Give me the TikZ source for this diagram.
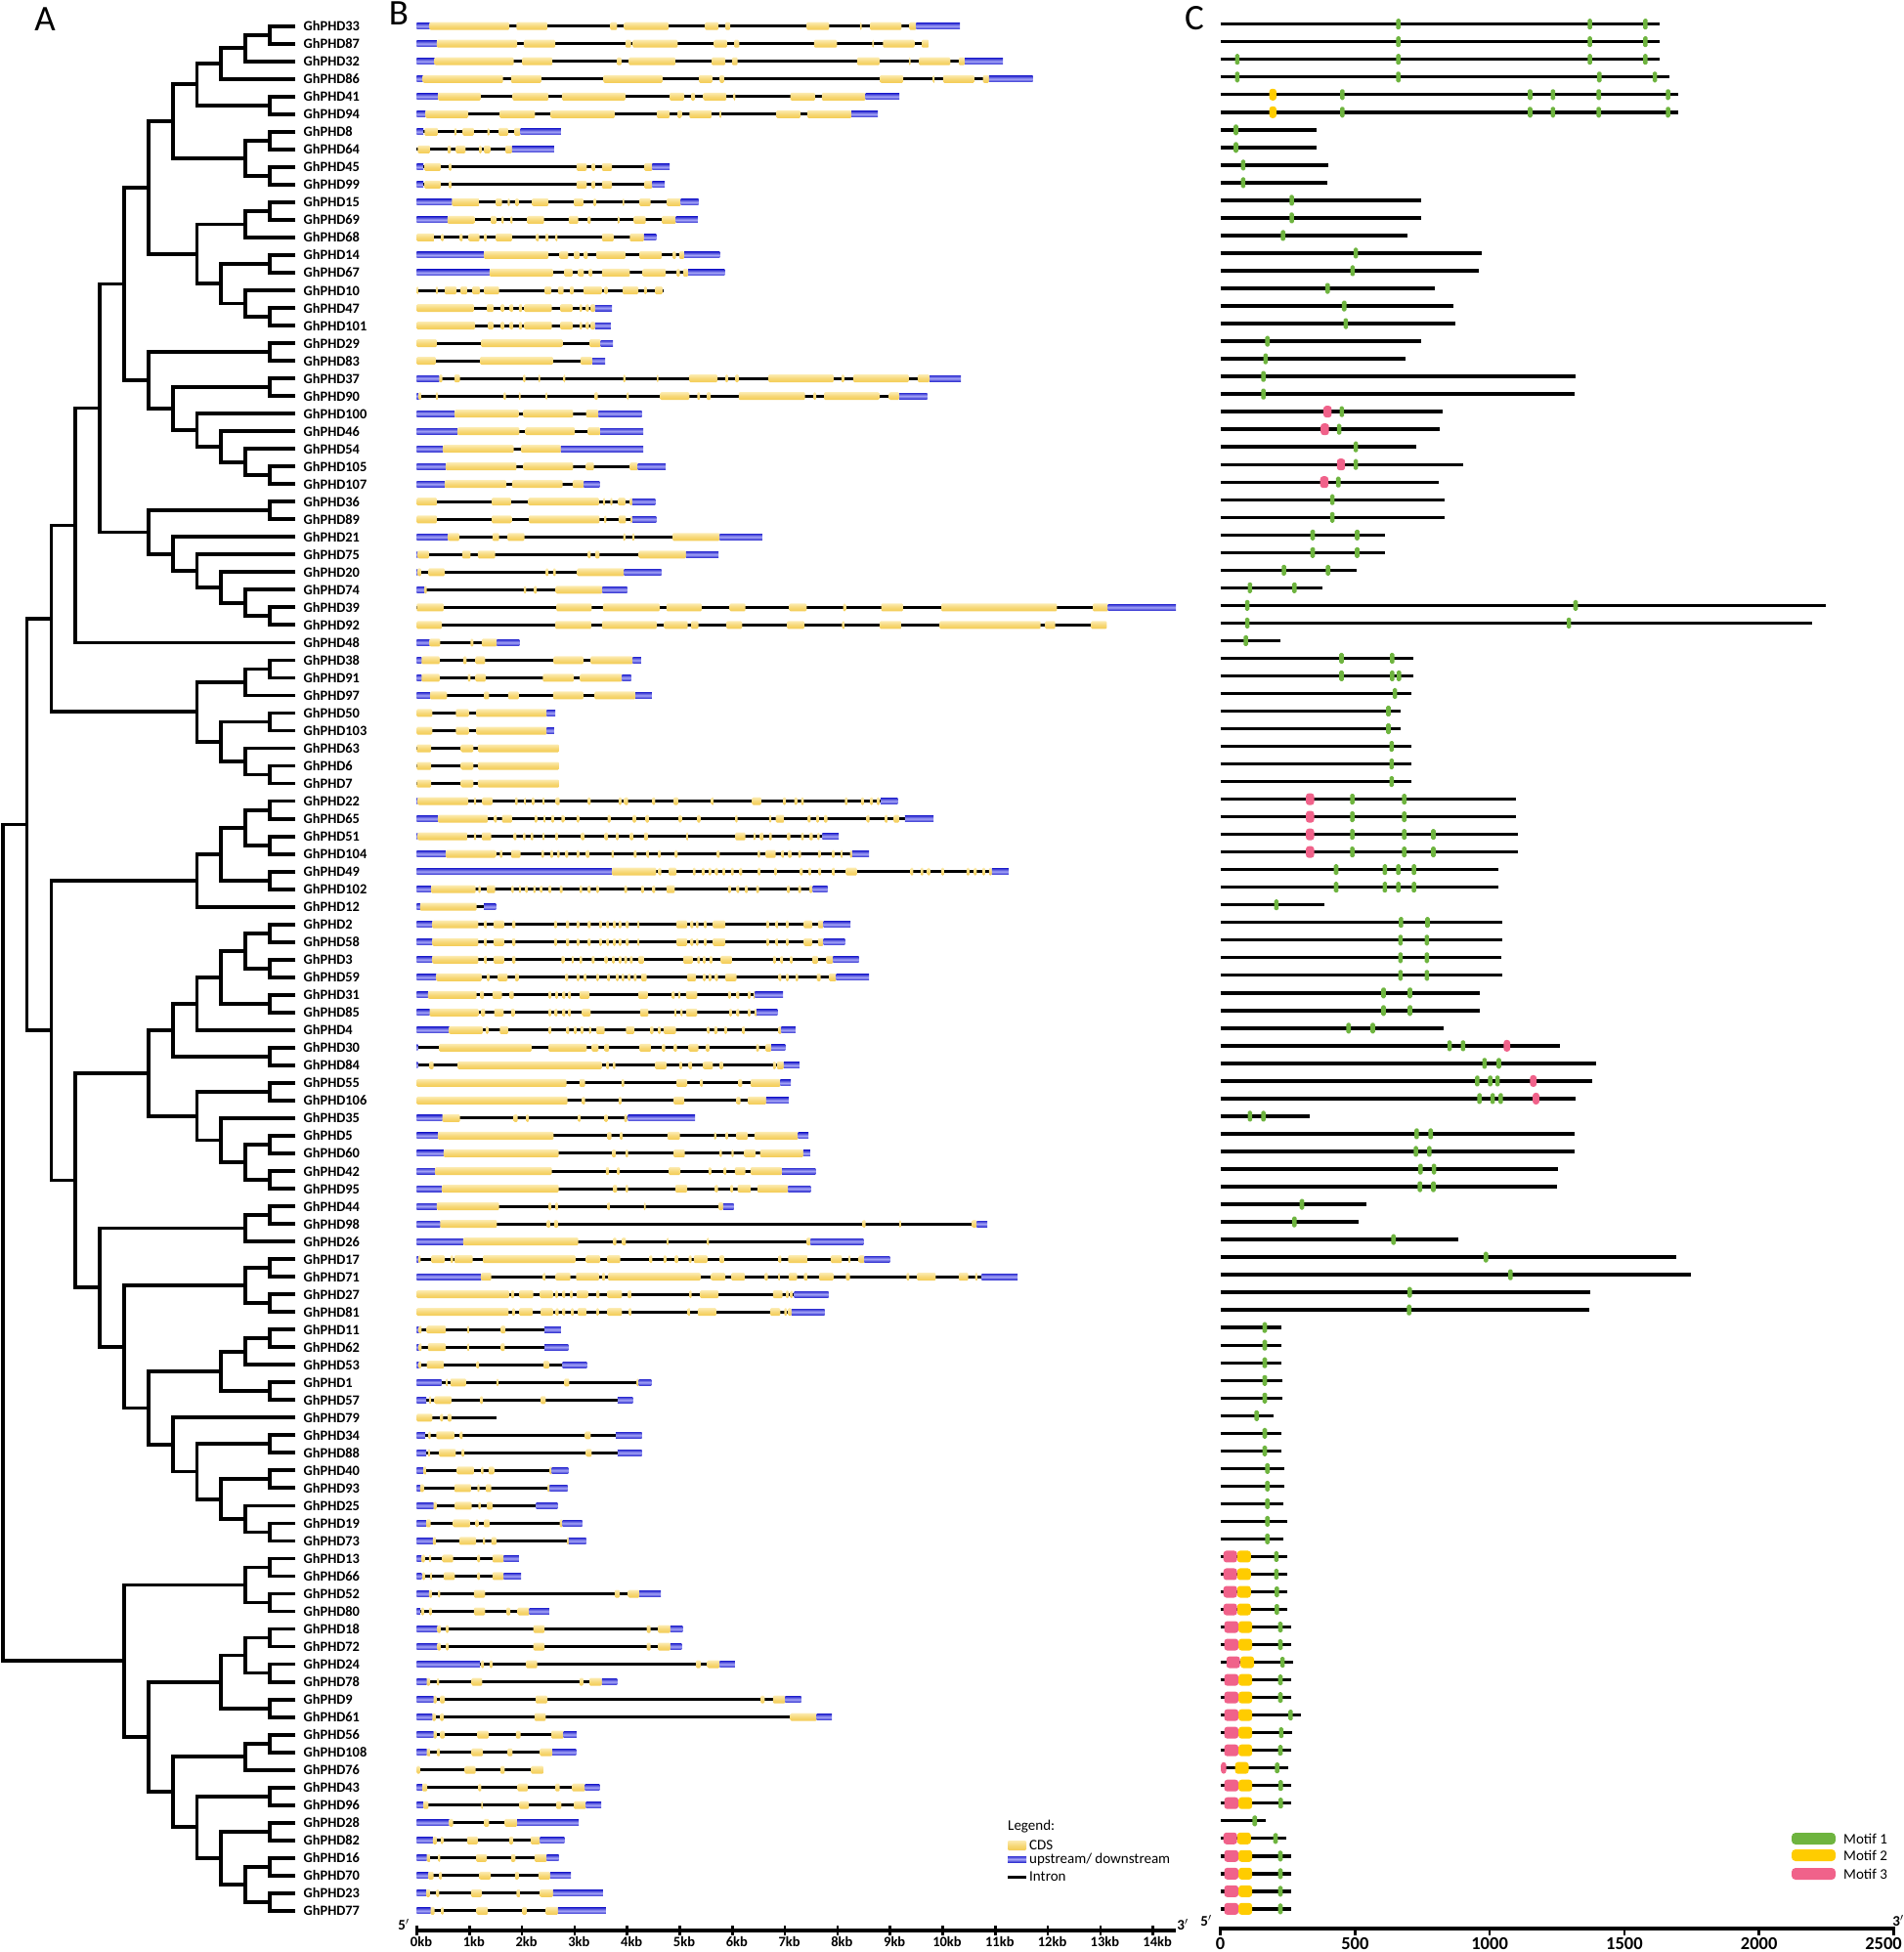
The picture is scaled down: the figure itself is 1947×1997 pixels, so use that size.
\documentclass[tikz,border=0pt]{standalone}
\usepackage{fontspec}
\setmainfont{Carlito}
\usetikzlibrary{calc}

\definecolor{cdsyellow}{HTML}{F3CB52}
\definecolor{cdslight}{HTML}{FCEBB0}
\definecolor{utrblue}{HTML}{3434D2}
\definecolor{utrlight}{HTML}{A4A4F6}
\definecolor{motifgreen}{HTML}{6EB43F}
\definecolor{motifyellow}{HTML}{FFCC00}
\definecolor{motifpink}{HTML}{F0628A}

\tikzset{declare function={bx(\u)=300+0.5741*\u; ry(\w)=26.7+18.02*(\w-1); cx(\v)=1248.5+0.2756*\v;}}

% half heights of the bars
\newcommand\seghu{3}
\newcommand\seghc{4}
\newcommand\mothg{5.5}
\newcommand\mothy{6}
\newcommand\mothp{6}

% clade: name, child 1, child 2, height above the tips
\newcommand\clade[4]{%
  \path let \p1=(#2), \p2=(#3) in coordinate (#1) at ({(300.9-24.85*#4)*1pt},{0.5*\y1+0.5*\y2});
  \draw[branch] (#2) -| (#1) |- (#3);
}
% gene: row, end, segments (u = up/downstream, c = CDS)
\newcommand\gene[3]{%
  \draw[intron] ({bx(220)},{ry(#1)}) -- ({bx(#2)},{ry(#1)});
  \foreach \kind/\sa/\sb in {#3}{%
    \path[seg\kind] ({bx(\sa)},{ry(#1)-\csname segh\kind\endcsname}) rectangle ({bx(\sb)},{ry(#1)+\csname segh\kind\endcsname});
  }
}
% protein: row, length, motifs
\newcommand\prot[3]{%
  \draw[pline] ({cx(0)},{ry(#1)-2}) -- ({cx(#2)},{ry(#1)-2});
  \foreach \kind/\sa/\sb in {#3}{%
    \path[motif\kind] ({cx(\sa)-2.3},{ry(#1)-2-\csname moth\kind\endcsname}) rectangle ({cx(\sb)+2.3},{ry(#1)-2+\csname moth\kind\endcsname});
  }
}

\begin{document}
\begin{tikzpicture}[x=1pt, y=-1pt,
    branch/.style={line width=3.8pt},
    genelab/.style={anchor=west, inner sep=0pt, font=\bfseries\fontsize{14.4}{16}\selectfont},
    panel/.style={inner sep=0pt, font=\fontsize{37}{40}\selectfont},
    intron/.style={line width=3pt},
    segu/.style={top color=utrblue, bottom color=utrblue, middle color=utrlight},
    segc/.style={rounded corners=1.2pt, top color=cdslight, bottom color=cdsyellow, middle color=cdsyellow!60!cdslight},
    pline/.style={line width=3.4pt},
    motifg/.style={fill=motifgreen, rounded corners=1.5pt},
    motify/.style={fill=motifyellow, rounded corners=3pt},
    motifp/.style={fill=motifpink, rounded corners=3pt},
    axisline/.style={line width=4pt},
    tick/.style={line width=2.6pt},
    kblab/.style={anchor=north, inner sep=0pt, font=\bfseries\fontsize{14.5}{16}\selectfont},
    aalab/.style={anchor=north, inner sep=0pt, font=\bfseries\fontsize{18.5}{20}\selectfont},
    endlab/.style={inner sep=0pt, font=\bfseries\fontsize{15}{16}\selectfont},
    legtext/.style={anchor=west, inner sep=0pt, font=\fontsize{15}{17}\selectfont},
]
\useasboundingbox (0,0) rectangle (1947,1997);

\node[panel] (panA) at (46,20) {A};
\node[panel] (panB) at (408,14) {B};
\node[panel] (panC) at (1222,19) {C};

% A: tree tips and names
\foreach \n [count=\i] in {33,87,32,86,41,94,8,64,45,99,15,69,68,14,67,10,47,101,29,83,37,90,100,46,54,105,107,36,89,21,75,20,74,39,92,48,38,91,97,50,103,63,6,7,22,65,51,104,49,102,12,2,58,3,59,31,85,4,30,84,55,106,35,5,60,42,95,44,98,26,17,71,27,81,11,62,53,1,57,79,34,88,40,93,25,19,73,13,66,52,80,18,72,24,78,9,61,56,108,76,43,96,28,82,16,70,23,77}{
  \coordinate (g\n) at (302,{ry(\i)});
  \node[genelab] (lab\n) at (310.5,{ry(\i)}) {GhPHD\n};
}

\clade{a1}{g33}{g87}{1}
\clade{a2}{a1}{g32}{2}
\clade{a3}{a2}{g86}{3}
\clade{a4p}{g41}{g94}{1}
\clade{a4}{a3}{a4p}{4}
\clade{b1}{g8}{g64}{1}
\clade{b2}{g45}{g99}{1}
\clade{b3}{b1}{b2}{2}
\clade{a5}{a4}{b3}{5}
\clade{c1}{g15}{g69}{1}
\clade{c2}{c1}{g68}{2}
\clade{c3}{g14}{g67}{1}
\clade{c4}{g47}{g101}{1}
\clade{c5}{g10}{c4}{2}
\clade{c6}{c3}{c5}{3}
\clade{c7}{c2}{c6}{4}
\clade{a6}{a5}{c7}{6}
\clade{d1}{g29}{g83}{1}
\clade{d2}{g37}{g90}{1}
\clade{d3}{g105}{g107}{1}
\clade{d4}{g54}{d3}{2}
\clade{d5}{g46}{d4}{3}
\clade{d6}{g100}{d5}{4}
\clade{d7}{d2}{d6}{5}
\clade{d8}{d1}{d7}{6}
\clade{a7}{a6}{d8}{7}
\clade{e1}{g39}{g92}{1}
\clade{e2}{g74}{e1}{2}
\clade{e3}{g20}{e2}{3}
\clade{e4}{g75}{e3}{4}
\clade{e5}{g21}{e4}{5}
\clade{e6}{g36}{g89}{1}
\clade{e7}{e6}{e5}{6}
\clade{a8}{a7}{e7}{8}
\clade{a9}{a8}{g48}{9}
\clade{f1}{g38}{g91}{1}
\clade{f2}{f1}{g97}{2}
\clade{f3}{g50}{g103}{1}
\clade{f4}{g6}{g7}{1}
\clade{f5}{g63}{f4}{2}
\clade{f6}{f3}{f5}{3}
\clade{f7}{f2}{f6}{4}
\clade{a10}{a9}{f7}{10}
\clade{h1}{g22}{g65}{1}
\clade{h2}{g51}{g104}{1}
\clade{h3}{h1}{h2}{2}
\clade{h4}{g49}{g102}{1}
\clade{h5}{h3}{h4}{3}
\clade{h6}{h5}{g12}{4}
\clade{i1}{g2}{g58}{1}
\clade{i2}{g3}{g59}{1}
\clade{i3}{i1}{i2}{2}
\clade{i4}{g31}{g85}{1}
\clade{i5}{i3}{i4}{3}
\clade{i6}{i5}{g4}{4}
\clade{i7}{g30}{g84}{1}
\clade{i8}{i6}{i7}{5}
\clade{j1}{g55}{g106}{1}
\clade{j2}{g5}{g60}{1}
\clade{j3}{g42}{g95}{1}
\clade{j4}{j2}{j3}{2}
\clade{j5}{g35}{j4}{3}
\clade{j6}{j1}{j5}{4}
\clade{i9}{i8}{j6}{6}
\clade{k1}{g44}{g98}{1}
\clade{k2}{k1}{g26}{2}
\clade{k3}{g17}{g71}{1}
\clade{k4}{g27}{g81}{1}
\clade{k5}{k3}{k4}{2}
\clade{m1}{g11}{g62}{1}
\clade{m2}{m1}{g53}{2}
\clade{m3}{g1}{g57}{1}
\clade{m4}{m2}{m3}{3}
\clade{n1}{g19}{g73}{1}
\clade{n2}{g25}{n1}{2}
\clade{n3}{g40}{g93}{1}
\clade{n4}{n3}{n2}{3}
\clade{n5}{g34}{g88}{1}
\clade{n6}{n5}{n4}{4}
\clade{n7}{g79}{n6}{5}
\clade{m5}{m4}{n7}{6}
\clade{k6}{k5}{m5}{7}
\clade{k7}{k2}{k6}{8}
\clade{i10}{i9}{k7}{9}
\clade{h7}{h6}{i10}{10}
\clade{a11}{a10}{h7}{11}
\clade{p1}{g13}{g66}{1}
\clade{p2}{g52}{g80}{1}
\clade{p3}{p1}{p2}{2}
\clade{q1}{g18}{g72}{1}
\clade{q2}{g24}{g78}{1}
\clade{q3}{q1}{q2}{2}
\clade{q4}{g9}{g61}{1}
\clade{q5}{q3}{q4}{3}
\clade{r1}{g56}{g108}{1}
\clade{r2}{r1}{g76}{2}
\clade{s1}{g43}{g96}{1}
\clade{s2}{g28}{g82}{1}
\clade{s3}{g16}{g70}{1}
\clade{s4}{g23}{g77}{1}
\clade{s5}{s3}{s4}{2}
\clade{s6}{s2}{s5}{3}
\clade{s7}{s1}{s6}{4}
\clade{r3}{r2}{s7}{5}
\clade{q6}{q5}{r3}{6}
\clade{p4}{p3}{q6}{7}
\clade{root}{a11}{p4}{12}

% B: gene structures
\gene{1}{1188}{u/220/243,c/243/385,c/398/453,c/565/577,c/590/669,c/734/758,c/770/779,c/915/955,c/1010/1013,c/1028/1084,c/1098/1110,u/1110/1188}
\gene{2}{1133}{u/220/256,c/256/399,c/411/467,c/592/602,c/605/685,c/750/773,c/786/795,c/928/969,c/1032/1035,c/1051/1107,c/1120/1133}
\gene{3}{1265}{u/220/252,c/252/393,c/408/462,c/577/585,c/598/681,c/746/770,c/782/792,c/1005/1045,c/1097/1100,c/1115/1171,c/1186/1197,u/1197/1265}
\gene{4}{1318}{u/220/231,c/231/374,c/388/442,c/553/658,c/723/747,c/760/768,c/1046/1087,c/1140/1143,c/1158/1214,c/1229/1240,u/1240/1318}
\gene{5}{1080}{u/220/258,c/258/334,c/391/455,c/479/592,c/671/697,c/709/716,c/731/772,c/785/788,c/886/930,c/942/1020,u/1020/1080}
\gene{6}{1042}{u/220/236,c/236/312,c/368/431,c/459/573,c/648/671,c/685/692,c/706/746,c/760/763,c/861/904,c/916/995,u/995/1042}
\gene{7}{477}{u/220/232,c/234/258,c/287/291,c/302/322,c/346/350,c/366/383,c/394/405,u/405/477}
\gene{8}{465}{c/222/244,c/275/281,c/290/307,c/331/336,c/340/351,c/378/390,u/390/465}
\gene{9}{671}{u/220/232,c/234/263,c/278/282,c/505/523,c/532/538,c/550/568,c/626/640,u/640/671}
\gene{10}{662}{u/220/232,c/234/263,c/278/282,c/505/523,c/532/538,c/550/568,c/626/640,u/640/662}
\gene{11}{722}{u/220/283,c/283/332,c/361/372,c/382/386,c/396/402,c/426/455,c/500/517,c/535/540,c/587/590,c/617/637,c/666/691,u/691/722}
\gene{12}{721}{u/220/275,c/275/323,c/352/362,c/371/375,c/387/391,c/417/447,c/491/508,c/525/530,c/578/581,c/607/628,c/657/682,u/682/721}
\gene{13}{647}{c/220/252,c/264/268,c/297/302,c/313/332,c/340/345,c/361/390,c/433/438,c/449/455,c/468/471,c/550/571,c/600/625,u/625/647}
\gene{14}{760}{u/220/340,c/340/455,c/475/490,c/500/510,c/518/525,c/540/592,c/617/657,c/676/682,c/688/697,u/697/760}
\gene{15}{769}{u/220/350,c/350/463,c/483/498,c/508/518,c/527/533,c/550/600,c/623/664,c/683/689,c/695/704,u/704/769}
\gene{16}{660}{c/220/223,c/254/258,c/270/291,c/298/310,c/319/333,c/340/367,c/448/460,c/472/482,c/493/500,c/517/550,c/555/560,c/587/615,c/625/630,c/645/658}
\gene{17}{568}{c/220/322,c/345/357,c/370/376,c/386/392,c/402/408,c/412/461,c/476/498,c/510/515,c/522/527,c/530/538,u/538/568}
\gene{18}{566}{c/220/324,c/347/357,c/370/376,c/386/392,c/402/408,c/412/461,c/476/498,c/510/515,c/522/527,c/530/538,u/538/566}
\gene{19}{570}{c/220/256,c/335/480,c/528/548,u/548/570}
\gene{20}{556}{c/220/254,c/333/463,c/512/533,u/533/556}
\gene{21}{1190}{u/220/260,c/260/266,c/287/297,c/410/414,c/437/440,c/482/485,c/588/592,c/648/651,c/706/756,c/770/775,c/788/794,c/847/963,c/977/982,c/998/1097,c/1113/1134,u/1134/1190}
\gene{22}{1130}{u/220/224,c/224/228,c/254/258,c/375/379,c/402/405,c/450/453,c/537/543,c/595/598,c/654/706,c/720/725,c/737/744,c/794/912,c/927/932,c/946/1044,c/1062/1080,u/1080/1130}
\gene{23}{621}{u/220/288,c/288/402,c/410/499,c/522/544,u/544/621}
\gene{24}{624}{u/220/293,c/293/403,c/414/502,c/525/547,u/547/624}
\gene{25}{624}{u/220/267,c/267/393,c/406/477,u/477/624}
\gene{26}{664}{u/220/272,c/272/398,c/410/499,c/522/536,c/600/614,u/614/664}
\gene{27}{546}{u/220/270,c/270/380,c/390/480,c/498/518,u/518/546}
\gene{28}{645}{c/220/256,c/354/388,c/419/545,c/552/556,c/565/569,c/579/592,c/600/604,u/604/645}
\gene{29}{647}{c/220/256,c/354/389,c/420/546,c/554/558,c/580/593,c/601/604,u/604/647}
\gene{30}{836}{u/220/276,c/276/296,c/355/367,c/382/412,c/588/592,c/604/608,c/676/760,u/760/836}
\gene{31}{758}{u/220/222,c/222/242,c/301/316,c/329/360,c/525/530,c/538/546,c/616/700,u/700/758}
\gene{32}{656}{u/220/222,c/222/228,c/241/270,c/450/455,c/463/468,c/506/590,u/590/656}
\gene{33}{595}{u/220/234,c/234/238,c/411/415,c/429/434,c/468/551,u/551/595}
\gene{34}{1573}{c/220/268,c/469/532,c/552/653,c/665/728,c/778/806,c/884/915,c/980/985,c/1048/1087,c/1155/1361,c/1425/1452,u/1452/1573}
\gene{35}{1450}{c/220/265,c/467/531,c/550/648,c/661/703,c/709/722,c/772/800,c/880/911,c/978/983,c/1045/1084,c/1152/1332,c/1340/1358,c/1422/1450}
\gene{36}{403}{u/220/243,c/243/262,c/316/321,c/336/363,u/363/403}
\gene{37}{620}{u/220/229,c/229/261,c/303/309,c/325/342,c/464/517,c/530/605,u/605/620}
\gene{38}{602}{u/220/229,c/229/261,c/311/316,c/325/343,c/445/500,c/511/586,u/586/602}
\gene{39}{639}{u/220/244,c/244/274,c/340/349,c/383/402,c/463/517,c/537/610,u/610/639}
\gene{40}{467}{c/220/248,c/290/313,c/326/452,u/452/467}
\gene{41}{465}{c/220/248,c/290/313,c/326/452,u/452/465}
\gene{42}{474}{c/220/246,c/299/321,c/329/474}
\gene{43}{474}{c/220/246,c/299/321,c/329/474}
\gene{44}{474}{c/220/246,c/299/321,c/329/474}
\gene{45}{1077}{u/220/222,c/222/312,c/322/326,c/337/355,c/395/400,c/412/415,c/425/430,c/444/448,c/468/475,c/525/530,c/580/585,c/590/597,c/640/645,c/678/686,c/745/750,c/818/834,c/873/878,c/893/898,c/905/910,c/983/988,c/1012/1017,c/1028/1033,c/1040/1045,u/1047/1077}
\gene{46}{1141}{u/220/258,c/258/347,c/358/363,c/372/390,c/430/435,c/446/450,c/460/465,c/478/483,c/505/510,c/560/566,c/605/611,c/628/634,c/687/692,c/720/726,c/788/792,c/848/852,c/860/875,c/917/922,c/932/937,c/946/952,c/1022/1027,c/1054/1060,c/1070/1080,u/1090/1141}
\gene{47}{972}{u/220/222,c/222/311,c/322/326,c/336/353,c/393/398,c/410/414,c/423/428,c/444/448,c/467/472,c/513/519,c/555/561,c/575/580,c/600/606,c/625/632,c/700/705,c/788/806,c/820/824,c/832/838,c/848/853,c/880/886,c/905/910,c/920/926,c/934/938,u/943/972}
\gene{48}{1026}{u/220/272,c/272/361,c/368/373,c/388/405,c/442/447,c/458/463,c/470/475,c/485/490,c/505/510,c/522/528,c/567/572,c/607/612,c/630/635,c/650/655,c/680/685,c/755/760,c/828/832,c/842/860,c/870/875,c/882/888,c/900/905,c/935/940,c/960/965,c/975/980,c/992/996,u/996/1026}
\gene{49}{1275}{u/220/568,c/568/647,c/651/656,c/669/683,c/712/717,c/728/733,c/740/745,c/752/757,c/765/770,c/780/785,c/795/800,c/828/833,c/857/862,c/903/908,c/918/923,c/936/941,c/960/966,c/985/1005,c/1100/1105,c/1118/1123,c/1130/1135,c/1155/1160,c/1200/1205,c/1213/1218,c/1228/1233,c/1240/1245,u/1245/1275}
\gene{50}{952}{u/220/246,c/246/325,c/330/334,c/345/360,c/389/393,c/402/406,c/414/418,c/428/432,c/440/444,c/455/460,c/475/480,c/510/515,c/525/530,c/540/545,c/590/595,c/620/625,c/640/645,c/665/680,c/775/780,c/790/795,c/805/810,c/825/830,c/880/885,c/900/905,c/920/925,u/926/952}
\gene{51}{361}{u/220/226,c/226/327,u/340/361}
\gene{52}{993}{u/220/248,c/248/330,c/340/346,c/357/376,c/390/396,c/465/470,c/486/492,c/505/510,c/525/530,c/545/550,c/558/563,c/570/575,c/580/585,c/593/598,c/613/617,c/683/702,c/708/713,c/718/722,c/732/737,c/748/770,c/843/848,c/860/865,c/878/883,c/910/925,c/935/945,u/945/993}
\gene{53}{983}{u/220/248,c/248/330,c/340/346,c/357/376,c/390/396,c/465/470,c/486/492,c/505/510,c/525/530,c/545/550,c/558/563,c/570/575,c/580/585,c/593/598,c/613/617,c/683/702,c/708/713,c/718/722,c/732/737,c/748/770,c/843/848,c/860/865,c/878/883,c/910/925,c/935/945,u/945/983}
\gene{54}{1008}{u/220/248,c/248/330,c/340/346,c/357/376,c/390/396,c/478/483,c/496/500,c/510/515,c/532/537,c/555/560,c/568/573,c/580/585,c/590/595,c/600/605,c/615/625,c/695/712,c/720/725,c/730/735,c/742/747,c/762/782,c/855/860,c/868/873,c/885/890,c/925/935,c/950/962,u/962/1008}
\gene{55}{1026}{u/220/255,c/255/336,c/345/350,c/365/382,c/395/402,c/485/490,c/505/510,c/518/523,c/540/545,c/560/565,c/575/580,c/585/590,c/597/601,c/607/612,c/620/630,c/702/718,c/730/735,c/740/745,c/752/757,c/770/790,c/865/870,c/878/883,c/895/900,c/933/940,c/955/968,u/968/1026}
\gene{56}{873}{u/220/240,c/240/327,c/333/340,c/355/372,c/386/393,c/455/460,c/467/472,c/480/485,c/490/495,c/510/528,c/615/632,c/675/680,c/686/690,c/700/720,c/775/780,c/790/795,c/810/815,c/820/823,u/823/873}
\gene{57}{863}{u/220/243,c/243/330,c/335/342,c/358/375,c/388/395,c/455/460,c/466/471,c/480/485,c/490/495,c/515/530,c/618/633,c/679/684,c/690/694,c/700/720,c/777/782,c/790/795,c/810/815,c/822/826,u/826/863}
\gene{58}{895}{u/220/278,c/278/338,c/343/348,c/368/383,c/455/460,c/487/492,c/500/505,c/512/517,c/527/531,c/540/555,c/593/608,c/636/642,c/650/655,c/660/682,c/738/742,c/750/756,c/768/773,c/800/805,c/865/870,u/870/895}
\gene{59}{877}{u/220/222,c/260/425,c/455/523,c/532/544,c/555/563,c/617/638,c/657/663,c/678/684,c/705/722,c/735/742,c/825/830,c/842/852,u/852/877}
\gene{60}{902}{u/220/222,c/243/250,c/293/550,c/558/563,c/570/574,c/645/665,c/688/693,c/705/711,c/731/748,c/760/766,c/855/860,c/862/874,u/874/902}
\gene{61}{887}{c/220/487,c/510/520,c/585/590,c/683/702,c/725/730,c/793/800,c/815/868,u/868/887}
\gene{62}{883}{c/220/489,c/515/520,c/580/585,c/678/697,c/790/797,c/810/843,u/843/883}
\gene{63}{716}{u/220/266,c/266/297,c/393/400,c/415/420,c/508/512,c/555/560,c/590/595,u/597/716}
\gene{64}{918}{u/220/258,c/258/464,c/560/567,c/582/587,c/667/689,c/750/754,c/771/775,c/790/810,c/822/900,u/900/918}
\gene{65}{921}{u/220/268,c/268/473,c/568/575,c/592/597,c/678/698,c/760/764,c/781/785,c/804/824,c/832/909,u/909/921}
\gene{66}{931}{u/220/253,c/253/461,c/557/563,c/577/582,c/669/690,c/740/745,c/767/772,c/787/806,c/815/871,u/871/931}
\gene{67}{922}{u/220/265,c/265/473,c/570/577,c/592/597,c/681/702,c/752/757,c/779/784,c/792/816,c/827/882,u/882/922}
\gene{68}{785}{u/220/256,c/256/367,c/455/460,c/467/472,c/560/565,c/625/628,c/758/766,u/766/785}
\gene{69}{1237}{u/220/262,c/262/363,c/452/458,c/465/472,c/1015/1020,c/1080/1083,c/1210/1218,u/1218/1237}
\gene{70}{1016}{u/220/303,c/303/508,c/570/576,c/586/593,c/666/669,c/738/741,c/915/922,u/922/1016}
\gene{71}{1063}{u/220/223,c/223/227,c/246/270,c/280/285,c/287/320,c/338/503,c/522/547,c/560/583,c/635/640,c/660/665,c/680/686,c/705/710,c/714/738,c/760/768,c/865/870,c/882/917,c/958/978,c/989/993,c/1008/1018,u/1018/1063}
\gene{72}{1291}{u/220/335,c/335/353,c/445/450,c/468/494,c/504/545,c/550/556,c/561/726,c/745/770,c/781/805,c/840/846,c/864/868,c/883/898,c/910/917,c/937/963,c/985/992,c/1093/1098,c/1112/1145,c/1186/1203,c/1215/1220,u/1227/1291}
\gene{73}{954}{c/220/385,c/388/394,c/403/428,c/440/463,c/467/472,c/480/485,c/493/498,c/505/525,c/540/546,c/560/586,c/596/603,c/706/710,c/725/758,c/855/872,c/878/883,c/886/890,u/893/954}
\gene{74}{947}{c/220/384,c/390/395,c/403/427,c/441/463,c/468/473,c/480/485,c/495/500,c/507/523,c/540/545,c/560/586,c/598/603,c/703/708,c/721/754,c/850/868,c/875/880,c/882/888,u/888/947}
\gene{75}{477}{u/220/224,c/224/229,c/238/272,c/310/314,c/370/378,u/448/477}
\gene{76}{490}{u/220/224,c/224/229,c/240/272,c/310/314,c/370/377,u/448/490}
\gene{77}{523}{u/220/224,c/224/228,c/238/269,c/327/331,c/446/456,u/480/523}
\gene{78}{638}{u/220/264,c/272/276,c/280/308,c/362/366,c/483/492,c/612/616,u/616/638}
\gene{79}{605}{u/220/237,c/242/246,c/252/282,c/333/338,c/441/450,u/578/605}
\gene{80}{363}{c/220/248,c/262/267,c/275/282}
\gene{81}{621}{u/220/235,c/241/245,c/255/287,c/297/302,c/520/530,u/575/621}
\gene{82}{621}{u/220/237,c/240/244,c/260/290,c/300/305,c/522/532,u/578/621}
\gene{83}{490}{u/220/232,c/232/238,c/292/322,c/335/339,c/348/358,c/457/461,u/461/490}
\gene{84}{489}{u/220/226,c/226/233,c/287/317,c/328/332,c/343/353,c/453/457,u/457/489}
\gene{85}{471}{u/220/250,c/250/256,c/288/318,c/330/334,c/345/355,u/433/471}
\gene{86}{515}{u/220/237,c/237/245,c/285/315,c/325/330,c/340/350,c/475/480,u/480/515}
\gene{87}{522}{u/220/249,c/249/255,c/296/326,c/338/342,c/353/362,c/488/491,u/491/522}
\gene{88}{402}{u/220/229,c/229/235,c/242/246,c/266/285,c/328/333,c/355/375,u/375/402}
\gene{89}{406}{u/220/229,c/230/235,c/244/248,c/268/288,c/328/333,c/355/375,u/375/406}
\gene{90}{655}{u/220/242,c/242/248,c/258/262,c/322/342,c/573/582,c/597/617,u/617/655}
\gene{91}{456}{u/220/226,c/228/233,c/242/247,c/322/342,c/380/387,c/400/421,u/421/456}
\gene{92}{694}{u/220/257,c/257/263,c/272/277,c/428/448,c/630/637,c/650/672,u/672/694}
\gene{93}{692}{u/220/257,c/257/263,c/272/277,c/428/448,c/630/637,c/650/672,u/672/692}
\gene{94}{787}{u/220/333,c/335/340,c/350/355,c/415/435,c/718/726,c/738/760,u/760/787}
\gene{95}{577}{u/220/238,c/238/244,c/256/260,c/318/337,c/510/517,c/528/550,u/550/577}
\gene{96}{905}{u/220/250,c/250/256,c/262/270,c/432/453,c/833/840,c/855/877,u/877/905}
\gene{97}{960}{u/220/248,c/248/254,c/262/268,c/430/450,c/886/933,u/933/960}
\gene{98}{505}{u/220/250,c/250/256,c/262/270,c/328/348,c/397/405,c/460/482,u/482/505}
\gene{99}{504}{u/220/238,c/238/245,c/256/262,c/318/338,c/382/391,c/440/462,u/462/504}
\gene{100}{446}{c/220/226,c/306/325,c/369/377,c/424/446}
\gene{101}{546}{u/220/230,c/230/239,c/330/335,c/400/418,c/467/475,c/497/520,u/520/546}
\gene{102}{549}{u/220/232,c/232/241,c/335/338,c/403/420,c/469/478,c/500/522,u/522/549}
\gene{103}{509}{u/220/278,c/278/285,c/340/349,c/377/399,u/399/509}
\gene{104}{483}{u/220/249,c/249/256,c/263/267,c/310/329,c/385/392,c/423/440,u/440/483}
\gene{105}{473}{u/220/238,c/238/245,c/258/262,c/326/345,c/388/396,c/430/452,u/452/473}
\gene{106}{495}{u/220/241,c/241/250,c/260/265,c/332/352,c/395/402,c/437/458,u/458/495}
\gene{107}{552}{u/220/237,c/237/244,c/255/260,c/317/336,c/398/405,c/440/463,u/463/552}
\gene{108}{557}{u/220/245,c/245/252,c/264/268,c/327/347,c/408/416,c/450/472,u/472/557}

% B: legend and scale
\node[legtext] (legtitle) at (1031,1869) {Legend:};
\path[segc] (1031,1883) rectangle (1050,1893);
\node[legtext] (legcds) at (1053,1888) {CDS};
\path[segu] (1031,1899) rectangle (1050,1905);
\node[legtext] (legutr) at (1053,1902) {upstream/ downstream};
\draw[intron] (1031,1920) -- (1050,1920);
\node[legtext] (legintron) at (1053,1920) {Intron};

\draw[axisline] ({bx(220)},1975) -- (1203,1975);
\foreach \k in {0,...,14}{
  \draw[tick] ({426.5+53.8*\k},1970) -- ({426.5+53.8*\k},1980);
  \node[kblab] (kb\k) at ({431+53.8*\k},1981.5) {\k kb};
}
\node[endlab] (bfive) at (413,1969) {5$'$};
\node[endlab] (bthree) at (1210,1969) {3$'$};

% C: conserved motifs
\prot{1}{1632}{g/661/661,g/1372/1372,g/1578/1578}
\prot{2}{1632}{g/661/661,g/1372/1372,g/1578/1578}
\prot{3}{1632}{g/63/63,g/661/661,g/1372/1372,g/1578/1578}
\prot{4}{1668}{g/63/63,g/661/661,g/1407/1407,g/1613/1613}
\prot{5}{1700}{y/190/200,g/453/453,g/1150/1150,g/1235/1235,g/1405/1405,g/1662/1662}
\prot{6}{1700}{y/190/200,g/453/453,g/1150/1150,g/1235/1235,g/1405/1405,g/1662/1662}
\prot{7}{356}{g/58/58}
\prot{8}{356}{g/58/58}
\prot{9}{400}{g/85/85}
\prot{10}{396}{g/85/85}
\prot{11}{746}{g/265/265}
\prot{12}{746}{g/265/265}
\prot{13}{696}{g/233/233}
\prot{14}{971}{g/503/503}
\prot{15}{959}{g/491/491}
\prot{16}{798}{g/398/398}
\prot{17}{864}{g/460/460}
\prot{18}{871}{g/466/466}
\prot{19}{746}{g/175/175}
\prot{20}{688}{g/168/168}
\prot{21}{1319}{g/160/160}
\prot{22}{1315}{g/160/160}
\prot{23}{824}{p/391/405,g/451/451}
\prot{24}{814}{p/381/395,g/441/441}
\prot{25}{728}{g/503/503}
\prot{26}{902}{p/441/455,g/503/503}
\prot{27}{812}{p/379/393,g/438/438}
\prot{28}{834}{g/416/416}
\prot{29}{834}{g/416/416}
\prot{30}{613}{g/343/343,g/508/508}
\prot{31}{613}{g/343/343,g/508/508}
\prot{32}{505}{g/236/236,g/400/400}
\prot{33}{378}{g/110/110,g/275/275}
\prot{34}{2248}{g/100/100,g/1319/1319}
\prot{35}{2198}{g/100/100,g/1294/1294}
\prot{36}{223}{g/95/95}
\prot{37}{716}{g/450/450,g/638/638}
\prot{38}{716}{g/450/450,g/638/638,g/663/663}
\prot{39}{708}{g/648/648}
\prot{40}{668}{g/624/624}
\prot{41}{668}{g/624/624}
\prot{42}{711}{g/636/636}
\prot{43}{711}{g/636/636}
\prot{44}{711}{g/636/636}
\prot{45}{1097}{p/326/340,g/490/490,g/683/683}
\prot{46}{1097}{p/326/340,g/490/490,g/683/683}
\prot{47}{1104}{p/326/340,g/490/490,g/683/683,g/791/791}
\prot{48}{1104}{p/326/340,g/490/490,g/683/683,g/791/791}
\prot{49}{1031}{g/430/430,g/611/611,g/661/661,g/719/719}
\prot{50}{1031}{g/430/430,g/611/611,g/661/661,g/719/719}
\prot{51}{386}{g/208/208}
\prot{52}{1046}{g/671/671,g/769/769}
\prot{53}{1046}{g/669/669,g/767/767}
\prot{54}{1044}{g/669/669,g/767/767}
\prot{55}{1046}{g/669/669,g/767/767}
\prot{56}{962}{g/606/606,g/704/704}
\prot{57}{962}{g/606/606,g/704/704}
\prot{58}{828}{g/476/476,g/566/566}
\prot{59}{1260}{g/851/851,g/901/901,p/1060/1068}
\prot{60}{1395}{g/981/981,g/1034/1034}
\prot{61}{1380}{g/954/954,g/1002/1002,g/1029/1029,p/1158/1166}
\prot{62}{1319}{g/962/962,g/1011/1011,g/1041/1041,p/1168/1176}
\prot{63}{331}{g/110/110,g/160/160}
\prot{64}{1317}{g/729/729,g/781/781}
\prot{65}{1314}{g/726/726,g/776/776}
\prot{66}{1254}{g/743/743,g/793/793}
\prot{67}{1249}{g/741/741,g/791/791}
\prot{68}{543}{g/303/303}
\prot{69}{514}{g/275/275}
\prot{70}{882}{g/643/643}
\prot{71}{1693}{g/986/986}
\prot{72}{1747}{g/1077/1077}
\prot{73}{1372}{g/703/703}
\prot{74}{1370}{g/701/701}
\prot{75}{228}{g/165/165}
\prot{76}{228}{g/165/165}
\prot{77}{228}{g/165/165}
\prot{78}{230}{g/165/165}
\prot{79}{230}{g/165/165}
\prot{80}{196}{g/135/135}
\prot{81}{228}{g/165/165}
\prot{82}{228}{g/165/165}
\prot{83}{238}{g/175/175}
\prot{84}{238}{g/175/175}
\prot{85}{233}{g/175/175}
\prot{86}{248}{g/175/175}
\prot{87}{233}{g/175/175}
\prot{88}{248}{p/20/54,y/71/105,g/208/208}
\prot{89}{248}{p/20/54,y/71/105,g/208/208}
\prot{90}{248}{p/20/54,y/71/105,g/210/210}
\prot{91}{248}{p/20/54,y/71/105,g/210/210}
\prot{92}{263}{p/23/59,y/76/110,g/223/223}
\prot{93}{263}{p/23/59,y/76/110,g/223/223}
\prot{94}{270}{p/31/65,y/83/117,g/231/231}
\prot{95}{263}{p/23/59,y/76/110,g/223/223}
\prot{96}{262}{p/23/59,y/76/110,g/223/223}
\prot{97}{301}{p/23/59,y/76/110,g/261/261}
\prot{98}{265}{p/23/59,y/76/110,g/226/226}
\prot{99}{263}{p/23/59,y/76/110,g/223/223}
\prot{100}{251}{p/11/14,y/63/97,g/211/211}
\prot{101}{263}{p/23/59,y/76/110,g/224/224}
\prot{102}{263}{p/23/59,y/76/110,g/224/224}
\prot{103}{170}{g/128/128}
\prot{104}{246}{p/20/54,y/71/105,g/205/205}
\prot{105}{263}{p/23/59,y/76/110,g/223/223}
\prot{106}{263}{p/23/59,y/76/110,g/223/223}
\prot{107}{263}{p/23/59,y/76/110,g/223/223}
\prot{108}{263}{p/23/59,y/76/110,g/223/223}

% C: legend and scale
\path[motifg, rounded corners=4pt] (1833,1875) rectangle (1878,1887);
\node[legtext] (mot1) at (1886,1881) {Motif 1};
\path[motify, rounded corners=4pt] (1833,1892) rectangle (1878,1904);
\node[legtext] (mot2) at (1886,1898) {Motif 2};
\path[motifp, rounded corners=4pt] (1833,1911) rectangle (1878,1923);
\node[legtext] (mot3) at (1886,1917) {Motif 3};

\draw[axisline] ({cx(0)},1973) -- ({cx(2500)},1973);
\foreach \v in {0,500,...,2500}{
  \draw[tick] ({cx(\v)},1971) -- ({cx(\v)},1980);
}
\foreach \v in {0,500,1000,1500,2000}{
  \node[aalab] (aa\v) at ({cx(\v)},1982) {\v};
}
\node[aalab, anchor=north east] (aa2500) at (1946,1982) {2500};
\node[endlab] (cfive) at (1234,1965) {5$'$};
\node[endlab] (cthree) at (1942,1965) {3$'$};
\end{tikzpicture}
\end{document}
